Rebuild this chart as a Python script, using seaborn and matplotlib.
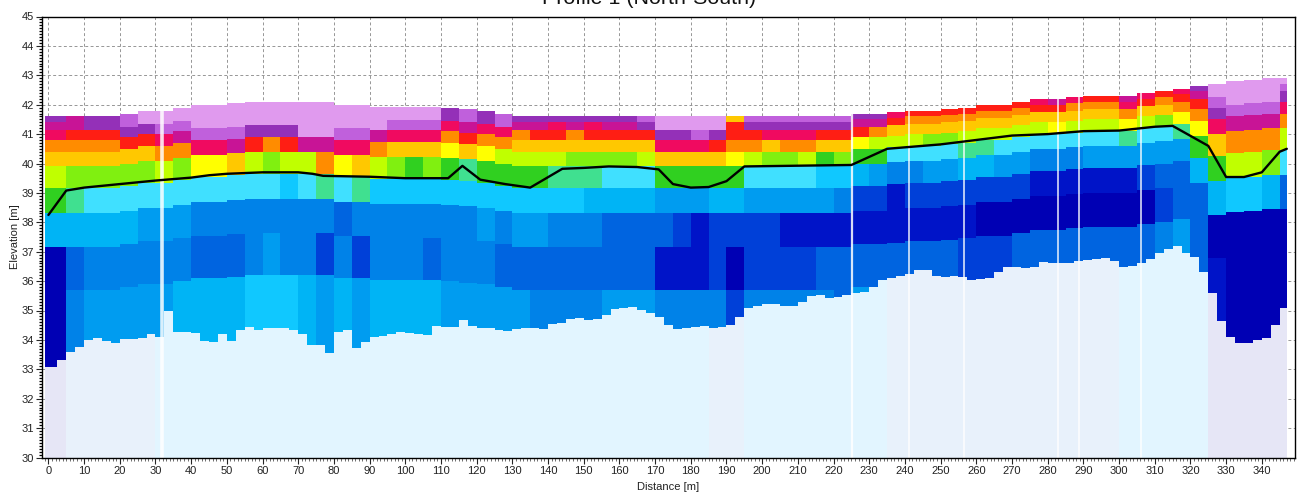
import numpy as np
import matplotlib
matplotlib.use("Agg")
import matplotlib.pyplot as plt
from matplotlib.colors import ListedColormap
from matplotlib.ticker import MultipleLocator
import seaborn as sns

# section columns start every 5 m, the base limit every 2.5 m
column_step = 5
base_step = 2.5
profile_start = -1
profile_end = 347

# colour classes, cold to hot, then the three pale shades below the section
class_colors = [
    "#0000B4", "#0014C8", "#0040D8", "#0064E0", "#0082E8", "#009CF0", "#00B4F5",
    "#10C8FF", "#40E0FF", "#40E090", "#30D020", "#80F010", "#C0FF00", "#FFFF00",
    "#FFC800", "#FF8C00", "#FF1E14", "#F00A60", "#C81496", "#9430B8", "#C060DC",
    "#E09AEE", "#E6E6F6", "#E8F1FB", "#E2F5FF",
]

# layer boundaries below the top of the section [m]
layer_depths = [0.2, 0.45, 0.8, 1.2, 1.7, 2.45, 3.3, 4.45, 5.9]

top_elevation = [
    41.6, 41.6, 41.6, 41.6, 41.7, 41.8, 41.8, 41.9, 42.0, 42.0,
    42.05, 42.1, 42.1, 42.1, 42.1, 42.1, 42.0, 42.0, 41.93, 41.93,
    41.93, 41.93, 41.9, 41.85, 41.8, 41.7, 41.6, 41.6, 41.6, 41.6,
    41.6, 41.6, 41.6, 41.6, 41.6, 41.6, 41.6, 41.6, 41.6, 41.6,
    41.6, 41.6, 41.6, 41.6, 41.6, 41.7, 41.7, 41.75, 41.8, 41.8,
    41.85, 41.9, 42.0, 42.0, 42.1, 42.2, 42.2, 42.25, 42.3, 42.3,
    42.3, 42.4, 42.45, 42.55, 42.65, 42.7, 42.8, 42.85, 42.9, 42.9,
]

layer_a = [
    19, 18, 19, 19, 20, 21, 21, 21, 21, 21,
    21, 21, 21, 21, 21, 21, 21, 21, 21, 21,
    21, 21, 19, 20, 19, 20, 19, 19, 19, 19,
    19, 19, 19, 20, 21, 21, 21, 21, 14, 20,
    20, 20, 20, 20, 20, 19, 19, 17, 16, 16,
    16, 16, 16, 16, 16, 17, 18, 17, 16, 16,
    18, 17, 16, 17, 19, 21, 21, 21, 21, 21,
]
layer_b = [
    18, 18, 19, 19, 20, 21, 21, 21, 21, 21,
    21, 21, 21, 21, 21, 21, 21, 21, 21, 21,
    21, 21, 19, 20, 19, 20, 18, 18, 17, 18,
    17, 18, 18, 19, 21, 21, 21, 21, 16, 19,
    19, 19, 19, 19, 19, 18, 18, 16, 15, 15,
    15, 15, 15, 15, 15, 16, 16, 15, 15, 15,
    17, 16, 15, 16, 18, 21, 21, 21, 21, 20,
]
layer_c = [
    17, 16, 16, 16, 19, 19, 20, 20, 21, 21,
    21, 21, 21, 21, 21, 21, 21, 21, 21, 20,
    20, 20, 17, 18, 17, 17, 15, 16, 16, 15,
    16, 16, 16, 16, 19, 19, 20, 19, 16, 16,
    17, 17, 17, 16, 16, 16, 15, 14, 14, 14,
    14, 14, 14, 14, 14, 14, 14, 14, 14, 14,
    15, 14, 14, 15, 16, 20, 21, 21, 21, 19,
]
layer_d = [
    15, 15, 15, 15, 16, 16, 17, 18, 20, 20,
    20, 19, 19, 19, 21, 21, 20, 20, 18, 17,
    17, 17, 15, 16, 15, 15, 14, 14, 14, 14,
    14, 14, 14, 14, 17, 17, 17, 16, 15, 15,
    14, 15, 15, 14, 14, 13, 12, 12, 12, 11,
    11, 12, 12, 12, 12, 12, 13, 12, 12, 12,
    13, 12, 11, 13, 15, 19, 20, 20, 20, 17,
]
layer_e = [
    14, 14, 14, 14, 14, 14, 15, 15, 17, 17,
    18, 16, 15, 16, 18, 18, 17, 17, 15, 14,
    14, 14, 13, 14, 13, 12, 12, 12, 12, 11,
    11, 11, 11, 12, 14, 14, 14, 14, 13, 12,
    11, 11, 12, 10, 11, 10, 10, 8, 8, 8,
    8, 9, 9, 8, 8, 8, 8, 8, 8, 8,
    9, 8, 8, 9, 13, 17, 18, 18, 18, 15,
]
layer_f = [
    12, 11, 11, 11, 11, 11, 12, 11, 13, 13,
    14, 12, 11, 12, 12, 15, 13, 14, 12, 11,
    10, 11, 10, 9, 10, 10, 10, 10, 9, 9,
    9, 8, 8, 8, 10, 10, 10, 10, 10, 8,
    8, 8, 8, 7, 7, 6, 5, 4, 4, 5,
    5, 6, 6, 5, 5, 4, 4, 4, 5, 5,
    5, 5, 5, 5, 10, 14, 15, 15, 15, 12,
]
layer_g = [
    10, 9, 8, 8, 8, 8, 8, 8, 8, 8,
    8, 8, 8, 7, 8, 9, 8, 9, 7, 7,
    7, 7, 7, 7, 7, 7, 7, 7, 7, 7,
    6, 6, 6, 6, 5, 5, 5, 6, 6, 5,
    5, 5, 5, 5, 4, 2, 2, 1, 2, 2,
    2, 2, 2, 2, 2, 1, 1, 1, 1, 1,
    1, 2, 3, 3, 6, 10, 12, 12, 11, 8,
]
layer_h = [
    6, 6, 6, 6, 6, 5, 5, 5, 4, 4,
    4, 4, 4, 4, 4, 4, 3, 4, 4, 4,
    4, 4, 4, 4, 5, 4, 5, 5, 4, 4,
    4, 3, 3, 3, 3, 2, 1, 2, 2, 2,
    2, 1, 1, 1, 1, 1, 1, 1, 1, 1,
    1, 1, 0, 0, 0, 0, 0, 0, 0, 0,
    0, 0, 2, 3, 3, 6, 7, 7, 6, 3,
]
layer_i = [
    0, 3, 4, 4, 4, 4, 4, 4, 3, 3,
    3, 4, 5, 4, 4, 2, 4, 2, 4, 4,
    4, 3, 4, 4, 4, 3, 3, 3, 3, 3,
    3, 3, 3, 3, 1, 1, 1, 2, 0, 2,
    2, 2, 2, 3, 3, 3, 3, 3, 3, 3,
    3, 2, 2, 2, 3, 3, 3, 3, 3, 3,
    3, 3, 4, 5, 3, 0, 0, 0, 0, 0,
]
layer_j = [
    0, 4, 5, 5, 5, 5, 5, 6, 6, 6,
    6, 7, 7, 7, 6, 5, 6, 5, 6, 6,
    6, 6, 5, 5, 5, 5, 5, 4, 4, 4,
    4, 5, 5, 5, 4, 4, 4, 4, 2, 4,
    4, 4, 4, 4, 3, 5, 4, 3, 3, 3,
    3, 2, 2, 2, 3, 3, 3, 3, 3, 3,
    3, 3, 4, 4, 3, 1, 0, 0, 0, 0,
]
pale_shade = [
    22, 23, 23, 23, 23, 23, 24, 24, 24, 24,
    24, 24, 24, 24, 24, 24, 24, 24, 24, 24,
    24, 24, 24, 24, 24, 24, 24, 24, 24, 24,
    24, 24, 24, 24, 24, 24, 24, 23, 23, 24,
    24, 24, 24, 24, 24, 24, 24, 23, 23, 23,
    23, 23, 23, 23, 23, 23, 23, 23, 23, 23,
    24, 24, 24, 24, 24, 22, 22, 22, 22, 22,
]

# lower limit of the coloured section, every 2.5 m
base_elevation = [
    33.09, 33.3, 33.6, 33.77, 34.0, 34.05, 33.96, 33.9, 34.02, 34.02,
    34.08, 34.19, 34.1, 35.0, 34.26, 34.28, 34.22, 33.96, 33.94, 34.2,
    33.96, 34.34, 34.45, 34.34, 34.4, 34.42, 34.4, 34.34, 34.2, 33.83,
    33.83, 33.54, 34.26, 34.34, 33.71, 33.92, 34.11, 34.14, 34.19, 34.26,
    34.22, 34.19, 34.17, 34.48, 34.45, 34.45, 34.67, 34.47, 34.42, 34.4,
    34.34, 34.3, 34.36, 34.42, 34.4, 34.36, 34.53, 34.59, 34.71, 34.73,
    34.67, 34.7, 34.85, 35.04, 35.1, 35.11, 35.02, 34.9, 34.79, 34.5,
    34.37, 34.42, 34.45, 34.48, 34.42, 34.45, 34.5, 34.79, 35.07, 35.16,
    35.22, 35.22, 35.16, 35.15, 35.3, 35.49, 35.53, 35.41, 35.47, 35.53,
    35.58, 35.62, 35.81, 36.04, 36.12, 36.18, 36.23, 36.38, 36.38, 36.18,
    36.15, 36.18, 36.15, 36.04, 36.07, 36.12, 36.3, 36.49, 36.49, 36.46,
    36.49, 36.64, 36.6, 36.6, 36.62, 36.7, 36.72, 36.75, 36.77, 36.68,
    36.47, 36.52, 36.6, 36.75, 36.95, 37.1, 37.2, 36.95, 36.83, 36.3,
    35.6, 34.65, 34.1, 33.88, 33.88, 34.0, 34.05, 34.5, 35.1,
]

# terrain line
terrain_x = [0, 5, 10, 20, 30, 40, 45, 50, 60, 70, 74, 77, 90, 100, 112, 116, 121, 128, 135,
             144, 150, 157, 165, 171, 175, 180, 185, 190, 195, 225, 235, 240, 250, 260, 270,
             280, 290, 300, 310, 315, 325, 330, 335, 340, 345, 347]
terrain_z = [38.25, 39.08, 39.18, 39.3, 39.42, 39.52, 39.6, 39.65, 39.7, 39.7, 39.65, 39.58,
             39.55, 39.5, 39.5, 39.92, 39.45, 39.3, 39.18, 39.82, 39.85, 39.9, 39.88, 39.8,
             39.3, 39.18, 39.2, 39.4, 39.9, 39.95, 40.5, 40.55, 40.65, 40.8, 40.95, 41.0,
             41.1, 41.12, 41.25, 41.28, 40.6, 39.54, 39.54, 39.7, 40.4, 40.5]

# white no-data gaps in the section
gap_x = [31.7, 225.3, 241, 256.6, 283, 288.8, 306.2]
gap_top = [41.8, 41.7, 41.8, 41.9, 42.25, 42.3, 42.4]
gap_width = [2.6, 1.6, 1.2, 1.2, 1.2, 1.2, 1.2]

x_ticks = np.arange(0, 341, 10)
y_ticks = np.arange(30, 46, 1)

sns.set_style("ticks")
plt.rcParams["font.family"] = ["Liberation Sans", "DejaVu Sans"]

fig = plt.figure(figsize=(13.01, 4.96), dpi=100)
ax = fig.add_axes([42 / 1301, 1 - 457.5 / 496, 1253 / 1301, 441 / 496])

cmap = ListedColormap(class_colors)
layers = np.array([layer_j, layer_i, layer_h, layer_g, layer_f, layer_e,
                   layer_d, layer_c, layer_b, layer_a])
depths = np.array(layer_depths)

# each column keeps the same layer depths below its own top
n_columns = len(top_elevation)
column_edges = np.r_[profile_start, np.arange(1, n_columns) * column_step, profile_end]
for i in range(n_columns):
    top = top_elevation[i]
    y_edges = np.r_[30, top - depths[::-1], top]
    ax.pcolormesh(column_edges[i:i + 2], y_edges, layers[:, i].reshape(-1, 1),
                  cmap=cmap, vmin=-0.5, vmax=len(class_colors) - 0.5,
                  shading="flat", linewidth=0, antialiased=False, zorder=2)

# pale ground below the section
n_base = len(base_elevation)
base_edges = np.r_[profile_start, np.arange(1, n_base) * base_step, profile_end]
base_shades = np.repeat(pale_shade, 2)[:n_base]
for i in range(n_base):
    ax.pcolormesh(base_edges[i:i + 2], [30, base_elevation[i]], [[base_shades[i]]],
                  cmap=cmap, vmin=-0.5, vmax=len(class_colors) - 0.5,
                  shading="flat", linewidth=0, antialiased=False, zorder=3)

for xg, zg, wg in zip(gap_x, gap_top, gap_width):
    ax.vlines(xg, 30, zg, color="white", linewidth=wg, alpha=0.85, zorder=4)

sns.lineplot(x=terrain_x, y=terrain_z, color="black", linewidth=1.7, sort=False,
             estimator=None, ax=ax, zorder=5)

ax.set_xlim(-1.8, 349.3)
ax.set_ylim(30, 45)
ax.set_xticks(x_ticks)
ax.set_yticks(y_ticks)
ax.xaxis.set_minor_locator(MultipleLocator(1))
ax.yaxis.set_minor_locator(MultipleLocator(0.1))
ax.tick_params(axis="both", which="major", length=4, width=0.8, labelsize=8,
               labelcolor="#222222", pad=2)
ax.tick_params(axis="x", which="minor", length=2, width=0.6, color="#555555")
ax.tick_params(axis="y", which="minor", length=2, width=0.9, color="black")
ax.grid(True, which="major", color="#969696", linestyle=(0, (3, 2.5)), linewidth=0.7, zorder=1)
ax.set_axisbelow(True)

for side in ["top", "right", "bottom", "left"]:
    ax.spines[side].set_visible(True)
    ax.spines[side].set_color("black")
    ax.spines[side].set_linewidth(1)
    ax.spines[side].set_zorder(6)

ax.set_xlabel("Distance [m]", fontsize=8, labelpad=4.5, color="#222222")
ax.set_ylabel("Elevation [m]", fontsize=8, labelpad=1, color="#222222")
fig.text(649 / 1301, 1 - 4 / 496, "Profile 1 (North-South)", fontsize=15.4, ha="center",
         va="baseline", color="#111111")

fig.savefig("out.png", dpi=100)
